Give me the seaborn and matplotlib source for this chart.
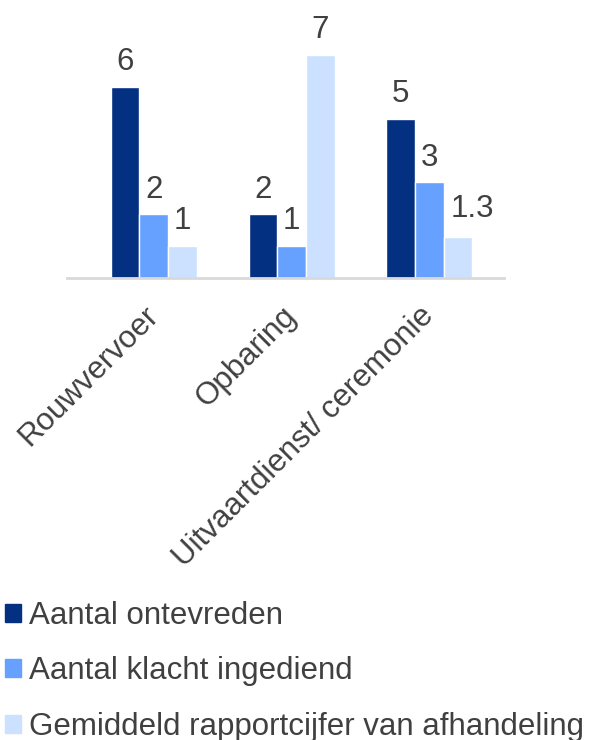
import pandas as pd
import matplotlib.pyplot as plt
import seaborn as sns

sns.set_style("white")
plt.rcParams['font.family'] = ['Liberation Sans', 'DejaVu Sans']

# data
categories = ['Rouwvervoer', 'Opbaring', 'Uitvaartdienst/ ceremonie']
series = ['Aantal ontevreden', 'Aantal klacht ingediend',
          'Gemiddeld rapportcijfer van afhandeling']
ontevreden = [6, 2, 5]
klacht = [2, 1, 3]
rapportcijfer = [1, 7, 1.3]
value_labels = [['6', '2', '5'], ['2', '1', '3'], ['1', '7', '1.3']]

colors = ['#033081', '#66a1ff', '#cce0ff']
text_color = '#404040'
fs = 22.5

df = pd.DataFrame({
    'categorie': categories * 3,
    'reeks': [series[0]] * 3 + [series[1]] * 3 + [series[2]] * 3,
    'waarde': ontevreden + klacht + rapportcijfer,
})

fig = plt.figure(figsize=(5.97, 7.40), dpi=100)
ax = fig.add_axes([0.112, 0.6243, 0.732, 0.3486])

sns.barplot(data=df, x='categorie', y='waarde', hue='reeks', order=categories,
            hue_order=series, palette=colors, width=0.623, saturation=1,
            ax=ax, legend=False)

ax.set_xlim(-0.63, 2.54)
ax.set_ylim(0, 8.1)

# value labels above bars
for container, labels in zip(ax.containers, value_labels):
    ax.bar_label(container, labels=labels, padding=7, fontsize=fs,
                 color=text_color)
# last label sits a bit to the right in the original (offset in points)
x0, y0 = ax.texts[-1].get_position()
ax.texts[-1].set_position((x0 + 10, y0 + 2))

sns.despine(ax=ax, left=True)
ax.spines['bottom'].set_color('#d9d9d9')
ax.spines['bottom'].set_linewidth(2)
ax.set_yticks([])
ax.set_xlabel('')
ax.set_ylabel('')
ax.tick_params(axis='x', length=0, pad=24)
ax.set_xticks(range(len(categories)))
ax.set_xticklabels(categories, rotation=45, ha='right', va='center',
                   rotation_mode='anchor', fontsize=fs, color=text_color)

# legend below the chart
handles = [plt.Rectangle((0, 0), 1, 1, color=c) for c in colors]
fig.legend(handles, series, loc='upper left', bbox_to_anchor=(-0.012, 0.205),
           frameon=False, fontsize=fs, labelcolor=text_color,
           handlelength=0.5, handleheight=0.5, handletextpad=0.25,
           labelspacing=0.82, borderaxespad=0)

fig.savefig('out.png', dpi=100)
